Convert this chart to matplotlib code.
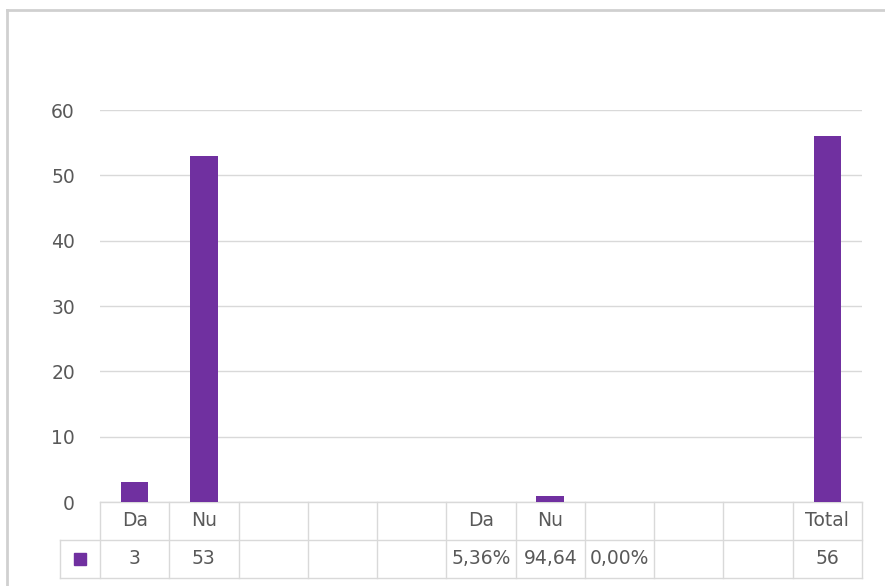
import numpy as np
import matplotlib
matplotlib.use("Agg")
import matplotlib.pyplot as plt
from matplotlib.transforms import blended_transform_factory
from matplotlib.patches import Rectangle
from matplotlib.lines import Line2D

categories = ["Da", "Nu", "", "", "", "Da", "Nu", "", "", "", "Total"]
values = [3, 53, np.nan, np.nan, np.nan, 0.0536, 0.9464, 0.0, np.nan, np.nan, 56]
value_labels = ["3", "53", "", "", "", "5,36%", "94,64", "0,00%", "", "", "56"]
yticks = [0, 10, 20, 30, 40, 50, 60]

plt.rcParams['font.family'] = ['DejaVu Sans']
W, H = 885, 586
fig = plt.figure(figsize=(W / 100, H / 100), dpi=100)
fig.patch.set_facecolor("white")

bar_color = "#7030A0"
text_color = "#595959"
grid_color = "#d9d9d9"
fs = 13.5

# outer frame (left and top visible)
fig.add_artist(Line2D([7 / W, 7 / W], [0, 1 - 10 / H], transform=fig.transFigure, color="#d0d0d0", lw=2))
fig.add_artist(Line2D([7 / W, 1], [1 - 10 / H, 1 - 10 / H], transform=fig.transFigure, color="#d0d0d0", lw=2))

left, right, top, bottom = 100, 862, 110, 502
ax = fig.add_axes([left / W, 1 - bottom / H, (right - left) / W, (bottom - top) / H])
n = len(categories)
x = np.arange(n)
ax.bar(x, values, width=0.4, color=bar_color, zorder=3)
ax.set_xlim(-0.5, n - 0.5)
ax.set_ylim(0, 60)
ax.set_yticks(yticks)
ax.set_yticklabels([str(t) for t in yticks], color=text_color, fontsize=fs)
ax.tick_params(axis="y", length=0, pad=18)
ax.tick_params(axis="x", length=0, labelbottom=False)
for s in ax.spines.values():
    s.set_visible(False)
ax.grid(axis="y", color=grid_color, lw=1, zorder=0)
ax.set_axisbelow(True)

# data table
trans = blended_transform_factory(ax.transData, ax.transAxes)
ph = bottom - top
row_h = 38 / ph
line_kw = dict(color=grid_color, lw=1, clip_on=False)
y0, y1, y2 = 0, -row_h, -2 * row_h
key_left = -0.5 - (left - 60) / ((right - left) / n)
ax.add_line(Line2D([-0.5, n - 0.5], [y0, y0], transform=trans, **line_kw))
ax.add_line(Line2D([key_left, n - 0.5], [y1, y1], transform=trans, **line_kw))
ax.add_line(Line2D([key_left, n - 0.5], [y2, y2], transform=trans, **line_kw))
for i in range(n + 1):
    ax.add_line(Line2D([i - 0.5, i - 0.5], [y0, y2], transform=trans, **line_kw))
ax.add_line(Line2D([key_left, key_left], [y1, y2], transform=trans, **line_kw))

for i in range(n):
    ax.text(i, (y0 + y1) / 2, categories[i], transform=trans, ha="center", va="center",
            color=text_color, fontsize=fs, clip_on=False)
    ax.text(i, (y1 + y2) / 2, value_labels[i], transform=trans, ha="center", va="center",
            color=text_color, fontsize=fs, clip_on=False)

# legend key
kx = (key_left + (-0.5)) / 2
ksz_x = 12 / ((right - left) / n)
ksz_y = 12 / ph
ax.add_patch(Rectangle((kx - ksz_x / 2, (y1 + y2) / 2 - ksz_y / 2), ksz_x, ksz_y,
                       transform=trans, color=bar_color, clip_on=False))

fig.savefig("out.png", dpi=100)
